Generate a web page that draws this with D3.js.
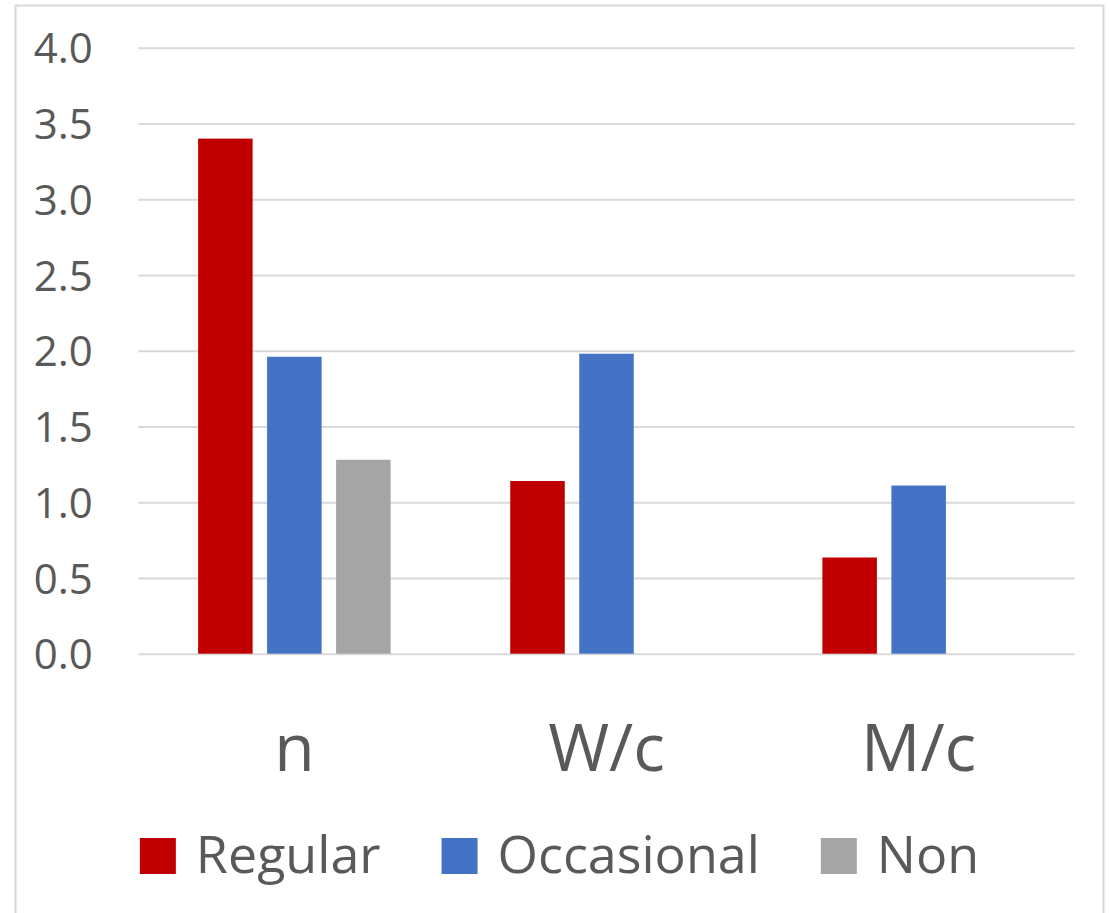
<!DOCTYPE html>
<html>
<head>
<meta charset="utf-8">
<script src="https://cdn.jsdelivr.net/npm/d3@7"></script>
<style>
  html, body { margin: 0; padding: 0; background: #fff; }
  svg { display: block; }
  text { font-family: "Open Sans", sans-serif; fill: #595959; }
</style>
</head>
<body>
<svg id="chart" width="1109" height="913"></svg>
<script>
// Groups along the x axis
const categories = ["n", "W/c", "M/c"];
// Series shown in the legend
const seriesNames = ["Regular", "Occasional", "Non"];
// Values per series, one per category (null = no bar)
const regular = [3.40, 1.14, 0.635];
const occasional = [1.96, 1.98, 1.11];
const non = [1.28, null, null];
// Y axis ticks
const yTicks = [0, 0.5, 1.0, 1.5, 2.0, 2.5, 3.0, 3.5, 4.0];

const seriesValues = { Regular: regular, Occasional: occasional, Non: non };
const colors = { Regular: "#C00000", Occasional: "#4472C4", Non: "#A5A5A5" };

const svg = d3.select("#chart");

// Chart area frame
svg.append("rect")
  .attr("x", 15.5).attr("y", 5.5)
  .attr("width", 1088).attr("height", 1000)
  .attr("fill", "#fff").attr("stroke", "#d9d9d9").attr("stroke-width", 2);

const plot = { left: 138.3, right: 1074.7, top: 47.7, bottom: 653.7 };

const y = d3.scaleLinear().domain([0, 4]).range([plot.bottom, plot.top]);

const x0 = d3.scaleBand().domain(categories).range([plot.left, plot.right]).padding(0);
const groupW = x0.bandwidth();
const outer = groupW * 0.1916;
const x1 = d3.scaleBand().domain(seriesNames)
  .range([outer, groupW - outer])
  .paddingInner(0.21).paddingOuter(0);

// Y axis with gridlines
const yAxis = svg.append("g")
  .attr("transform", `translate(${plot.left},0)`)
  .call(d3.axisLeft(y).tickValues(yTicks).tickFormat(d3.format(".1f"))
    .tickSize(-(plot.right - plot.left)).tickPadding(45.6));
yAxis.select(".domain").remove();
yAxis.selectAll(".tick line").attr("stroke", "#d9d9d9").attr("stroke-width", 2);
yAxis.selectAll(".tick text")
  .attr("font-size", 42).attr("font-family", "'Open Sans', sans-serif")
  .attr("fill", "#595959").attr("dy", "0.36em");

// Bars
const rows = [];
categories.forEach((c, i) => {
  seriesNames.forEach(s => {
    const v = seriesValues[s][i];
    if (v != null) rows.push({ cat: c, series: s, value: v });
  });
});

svg.append("g").selectAll("rect")
  .data(rows)
  .join("rect")
  .attr("x", d => x0(d.cat) + x1(d.series))
  .attr("y", d => y(d.value))
  .attr("width", x1.bandwidth())
  .attr("height", d => y(0) - y(d.value))
  .attr("fill", d => colors[d.series]);

// Category axis
const xAxis = svg.append("g")
  .attr("transform", `translate(0,${plot.bottom})`)
  .call(d3.axisBottom(x0).tickSize(0));
xAxis.select(".domain").remove();
xAxis.selectAll(".tick text")
  .attr("font-size", 66).attr("font-family", "'Open Sans', sans-serif")
  .attr("fill", "#595959").attr("dy", null).attr("y", 117);

// Legend
const legend = svg.append("g").attr("class", "legend");
const sq = 36, gapText = 20, gapItem = 61, fs = 52;
const items = legend.selectAll("g").data(seriesNames).join("g");
items.append("rect").attr("width", sq).attr("height", sq).attr("y", 838)
  .attr("fill", d => colors[d]);
items.append("text").text(d => d)
  .attr("font-size", fs).attr("y", 873);
const widths = [];
items.each(function () {
  widths.push(d3.select(this).select("text").node().getComputedTextLength());
});
const total = widths.reduce((a, w) => a + sq + gapText + w, 0) + gapItem * (widths.length - 1);
let xPos = 559.5 - total / 2;
items.each(function (d, i) {
  const g = d3.select(this);
  g.select("rect").attr("x", xPos);
  g.select("text").attr("x", xPos + sq + gapText);
  xPos += sq + gapText + widths[i] + gapItem;
});
</script>
</body>
</html>
